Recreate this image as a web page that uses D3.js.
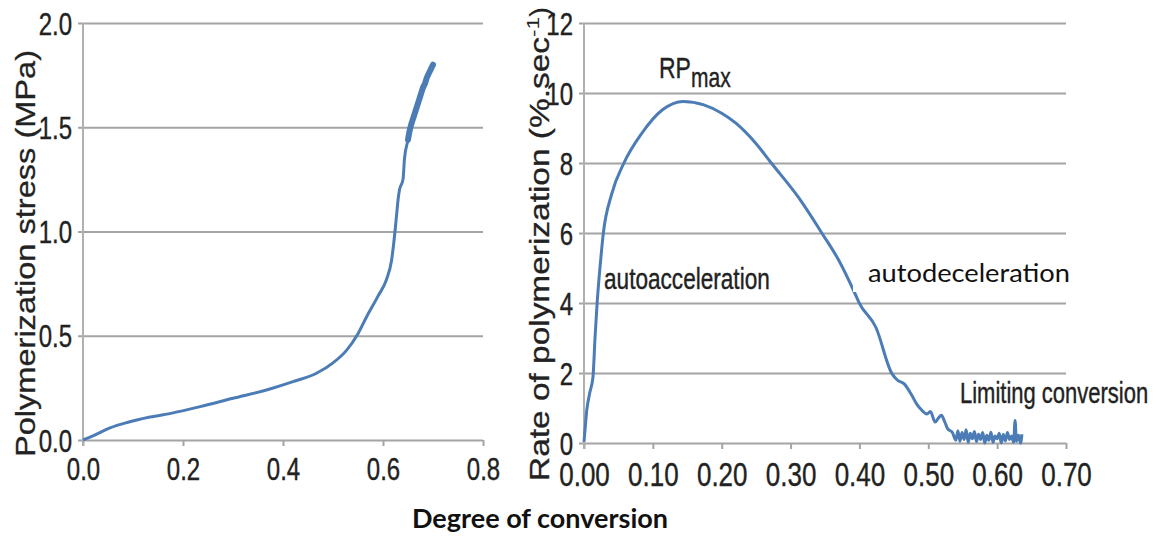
<!DOCTYPE html>
<html>
<head>
<meta charset="utf-8">
<script src="https://cdn.jsdelivr.net/npm/d3@7"></script>
<style>
  body { margin: 0; background: #fff; }
  text { font-family: "Liberation Sans", Arial, sans-serif; fill: #222; }
  .note2 { font-family: Lato, "Open Sans", sans-serif; fill: #111; }
</style>
</head>
<body>
<div id="chart"></div>
<script>
// ---- data ----
// left panel: polymerization stress (MPa) vs degree of conversion
var stressConv = [0, 0.02, 0.054, 0.09, 0.134, 0.18, 0.234, 0.3, 0.367, 0.42, 0.467, 0.5, 0.527, 0.55, 0.567, 0.59, 0.607, 0.617, 0.624, 0.628, 0.63, 0.633, 0.64, 0.643, 0.65, 0.653, 0.656, 0.66, 0.664, 0.668, 0.672, 0.676, 0.68, 0.684, 0.688, 0.692, 0.696, 0.70];
var stressVal = [0, 0.02, 0.058, 0.085, 0.11, 0.13, 0.16, 0.2, 0.24, 0.28, 0.32, 0.37, 0.43, 0.51, 0.59, 0.69, 0.77, 0.86, 1.0, 1.1, 1.15, 1.2, 1.25, 1.35, 1.44, 1.48, 1.51, 1.54, 1.57, 1.6, 1.63, 1.66, 1.69, 1.71, 1.74, 1.76, 1.78, 1.8];

// right panel: rate of polymerization (%/s) vs degree of conversion
var rateConv = [0, 0.002, 0.004, 0.008, 0.013, 0.016, 0.019, 0.025, 0.028, 0.04, 0.058, 0.084, 0.114, 0.144, 0.174, 0.2, 0.221, 0.25, 0.272, 0.311, 0.346, 0.37, 0.394, 0.4, 0.424, 0.447, 0.455, 0.465, 0.475, 0.483, 0.49, 0.498, 0.503, 0.51, 0.515, 0.519, 0.524, 0.528, 0.535, 0.54, 0.543, 0.546, 0.549, 0.552, 0.555, 0.558, 0.561, 0.564, 0.567, 0.57, 0.573, 0.576, 0.579, 0.582, 0.585, 0.588, 0.591, 0.594, 0.597, 0.6, 0.603, 0.606, 0.609, 0.612, 0.615, 0.618, 0.621, 0.624, 0.626, 0.628, 0.631, 0.634, 0.636];
var rateVal = [0.03, 0.5, 0.93, 1.4, 1.88, 3.0, 3.98, 5.4, 5.98, 7.1, 8.0, 8.85, 9.52, 9.76, 9.66, 9.42, 9.13, 8.55, 8.0, 7.03, 5.98, 5.22, 4.25, 3.99, 3.3, 1.99, 1.8, 1.69, 1.4, 1.12, 0.95, 0.83, 0.9, 0.6, 0.72, 0.79, 0.6, 0.41, 0.3, 0.08, 0.35, 0.05, 0.3, 0.1, 0.38, 0.02, 0.28, 0.12, 0.33, 0.04, 0.25, 0.1, 0.3, 0.0, 0.22, 0.08, 0.31, 0.02, 0.2, 0.12, 0.28, 0.0, 0.24, 0.06, 0.3, 0.1, 0.2, 0.02, 0.64, 0.05, 0.22, 0.0, 0.25];

var stressTicksX = [0, 0.2, 0.4, 0.6, 0.8];
var stressTicksY = [0, 0.5, 1.0, 1.5, 2.0];
var rateTicksX = [0, 0.1, 0.2, 0.3, 0.4, 0.5, 0.6, 0.7];
var rateTicksY = [0, 2, 4, 6, 8, 10, 12];

var svgWidth = 1159;
var svgHeight = 538;
var stretch = 1.3;   // the original figure is stretched vertically
var lineColor = "#4b7cb6";
var gridColor = "#a4a4a4";

var svg = d3.select("#chart")
  .append("svg")
  .attr("width", svgWidth)
  .attr("height", svgHeight);

svg.append("rect").attr("width", svgWidth).attr("height", svgHeight).attr("fill", "#fff");

// horizontal text squeezed like the source image
function stretchedText(parent, x, y, str, size, anchor) {
  return parent.append("text")
    .attr("transform", `translate(${x}, ${y}) scale(1, ${stretch})`)
    .attr("text-anchor", anchor || "start")
    .attr("font-size", size)
    .attr("stroke", "#222")
    .attr("stroke-width", 0.3)
    .text(str);
}

function drawPanel(opt) {
  var g = svg.append("g").attr("transform", `translate(${opt.left}, ${opt.top})`);

  var x = d3.scaleLinear().domain(opt.xDomain).range([0, opt.width]);
  var y = d3.scaleLinear().domain(opt.yDomain).range([opt.height, 0]);

  // gridlines + y labels
  var yAxis = g.append("g")
    .call(d3.axisLeft(y).tickValues(opt.yTicks).tickSize(-opt.width).tickFormat(opt.yFormat));
  yAxis.select(".domain").remove();
  yAxis.selectAll("line")
    .attr("x1", -5)
    .attr("stroke", gridColor)
    .attr("stroke-width", 2);
  yAxis.selectAll("text")
    .attr("x", 0).attr("dy", null).attr("y", 0)
    .attr("fill", "#222")
    .attr("stroke", "#222")
    .attr("stroke-width", 0.3)
    .attr("font-size", opt.yTickSize)
    .attr("font-family", "Liberation Sans, Arial, sans-serif")
    .attr("text-anchor", "end")
    .attr("transform", `translate(${opt.yLabelX}, ${0.36 * opt.yTickSize * stretch}) scale(1, ${stretch})`);

  // x ticks + labels
  var xAxis = g.append("g")
    .attr("transform", `translate(0, ${opt.height})`)
    .call(d3.axisBottom(x).tickValues(opt.xTicks).tickSize(6).tickFormat(opt.xFormat));
  xAxis.select(".domain").remove();
  xAxis.selectAll("line").attr("stroke", gridColor).attr("stroke-width", 2);
  xAxis.selectAll("text")
    .attr("y", 0).attr("dy", null)
    .attr("fill", "#222")
    .attr("stroke", "#222")
    .attr("stroke-width", 0.3)
    .attr("font-size", opt.xTickSize)
    .attr("font-family", "Liberation Sans, Arial, sans-serif")
    .attr("transform", `translate(0, ${opt.xLabelY}) scale(1, ${stretch})`);

  // y axis line
  g.append("line")
    .attr("x1", 0).attr("x2", 0)
    .attr("y1", 0).attr("y2", opt.height + 6)
    .attr("stroke", "#b0b0b0")
    .attr("stroke-width", 2);

  var line = d3.line()
    .curve(d3.curveMonotoneX)
    .x((d, i) => x(opt.xs[i]))
    .y((d, i) => y(opt.ys[i]));

  g.append("path")
    .datum(opt.ys)
    .attr("d", line)
    .attr("fill", "none")
    .attr("stroke", lineColor)
    .attr("stroke-width", 3)
    .attr("stroke-linejoin", "round");

  return { g: g, x: x, y: y };
}

// left panel
var left = drawPanel({
  left: 83, top: 23, width: 400, height: 417,
  xDomain: [0, 0.8], yDomain: [0, 2],
  xTicks: stressTicksX, yTicks: stressTicksY,
  xFormat: d3.format(".1f"), yFormat: d3.format(".1f"),
  xs: stressConv, ys: stressVal,
  xTickSize: 24, yTickSize: 24, yLabelX: -11, xLabelY: 40
});

// thicker top part of the stress curve
var topIdx = stressConv.map((d, i) => i).filter(i => stressVal[i] >= 1.44);
left.g.append("path")
  .datum(topIdx)
  .attr("d", d3.line().curve(d3.curveMonotoneX).x(i => left.x(stressConv[i])).y(i => left.y(stressVal[i])))
  .attr("fill", "none")
  .attr("stroke", lineColor)
  .attr("stroke-width", 6)
  .attr("stroke-linecap", "round");

// right panel
var right = drawPanel({
  left: 584, top: 23, width: 482, height: 420,
  xDomain: [0, 0.7], yDomain: [0, 12],
  xTicks: rateTicksX, yTicks: rateTicksY,
  xFormat: d3.format(".2f"), yFormat: d3.format("d"),
  xs: rateConv, ys: rateVal,
  xTickSize: 26, yTickSize: 24, yLabelX: -11, xLabelY: 43
});

// y axis titles (rotated, stretched along their length)
svg.append("text")
  .attr("transform", "translate(35, 457) rotate(-90)")
  .attr("font-size", 28)
  .attr("stroke", "#222").attr("stroke-width", 0.3)
  .attr("textLength", 407)
  .attr("lengthAdjust", "spacingAndGlyphs")
  .text("Polymerization stress (MPa)");

svg.append("text")
  .attr("transform", "translate(549, 481) rotate(-90)")
  .attr("font-size", 28)
  .attr("stroke", "#222").attr("stroke-width", 0.3)
  .attr("textLength", 444)
  .attr("lengthAdjust", "spacingAndGlyphs")
  .text("Rate of polymerization (%.sec");
svg.append("text")
  .attr("transform", "translate(539, 37) rotate(-90)")
  .attr("font-size", 17)
  .attr("textLength", 20)
  .attr("lengthAdjust", "spacingAndGlyphs")
  .text("-1");
svg.append("text")
  .attr("transform", "translate(549, 17) rotate(-90)")
  .attr("font-size", 28)
  .attr("textLength", 10)
  .attr("lengthAdjust", "spacingAndGlyphs")
  .text(")");

// annotations
stretchedText(svg, 659, 78, "RP", 23);
stretchedText(svg, 691, 87, "max", 21);
stretchedText(svg, 604, 289, "autoacceleration", 22.6);
stretchedText(svg, 960, 403, "Limiting conversion", 22);

// pasted label with its white box
svg.append("rect")
  .attr("x", 853).attr("y", 250)
  .attr("width", 232).attr("height", 42)
  .attr("fill", "#fff");
svg.append("text")
  .attr("class", "note2")
  .attr("transform", `translate(868, 282) scale(1, 1.2)`)
  .attr("font-size", 21)
  .attr("textLength", 202)
  .attr("lengthAdjust", "spacingAndGlyphs")
  .text("autodeceleration");

// shared x title
svg.append("text")
  .attr("class", "note2")
  .attr("transform", `translate(412, 528) scale(1, 1.2)`)
  .attr("font-size", 22)
  .attr("font-weight", "bold")
  .attr("textLength", 256)
  .attr("lengthAdjust", "spacingAndGlyphs")
  .text("Degree of conversion");
</script>
</body>
</html>
